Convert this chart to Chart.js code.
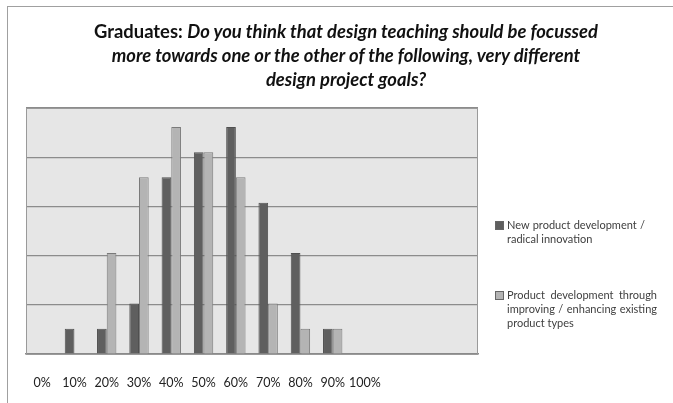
<!DOCTYPE html>
<html>
<head>
<meta charset="utf-8">
<script src="https://cdn.jsdelivr.net/npm/chart.js@4"></script>
<style>
    body { margin: 0; background: #fff; }
    #wrap { position: relative; width: 673px; height: 403px; overflow: hidden; }
    #frame { position: absolute; left: 7px; top: 6px; width: 700px; height: 420px; border: 1px solid #a0a0a0; }
    #title {
        position: absolute; left: 7px; top: 19px; width: 678px;
        text-align: center; font-family: Lato, sans-serif; font-weight: bold;
        font-size: 18.4px; line-height: 24px; color: #111;
    }
    #title i { font-style: italic; }
    #legend { position: absolute; left: 495px; top: 218px; width: 175px; font-family: Lato, sans-serif; font-size: 11px; line-height: 14px; color: #404040; }
    .item { position: relative; padding-left: 12px; }
    .item .ln { white-space: nowrap; text-align: justify; text-align-last: justify; }
    .item .ln.last { text-align-last: left; }
    .box { position: absolute; left: 0; top: 3px; width: 7px; height: 7px; border: 1px solid #666; }
    canvas { position: absolute; left: 0; top: 0; }
</style>
</head>
<body>
<div id="wrap">
    <div id="frame"></div>
    <canvas id="chart" width="673" height="403"></canvas>
    <div id="title">Graduates: <i>Do you think that design teaching should be focussed<br>more towards one or the other of the following, very different<br>design project goals?</i></div>
    <div id="legend"></div>
</div>
<script>
// answer scale, plus three empty slots the original plot area kept on the right
const categories = ['0%', '10%', '20%', '30%', '40%', '50%', '60%', '70%', '80%', '90%', '100%', '', '', ''];
const seriesNames = [
    ['New product development /', 'radical innovation'],
    ['Product development through', 'improving / enhancing existing', 'product types']
];
// percent of respondents
const newProduct = [0, 2.56, 2.56, 5.13, 17.95, 20.51, 23.08, 15.38, 10.26, 2.56, 0];
const improving = [0, 0, 10.26, 17.95, 23.08, 20.51, 17.95, 5.13, 2.56, 2.56, 0];
const yTicks = [0, 5, 10, 15, 20, 25];

const colors = ['#5f5f5f', '#b4b4b4'];
const legendTextWidth = [138, 150];

const plotBackground = {
    id: 'plotBackground',
    beforeDraw(chart) {
        const a = chart.chartArea;
        const ctx = chart.ctx;
        ctx.save();
        ctx.fillStyle = '#e6e6e6';
        ctx.fillRect(a.left, a.top, a.right - a.left, a.bottom - a.top);
        ctx.restore();
    },
    afterDraw(chart) {
        const a = chart.chartArea;
        const ctx = chart.ctx;
        ctx.save();
        ctx.strokeStyle = '#9a9a9a';
        ctx.lineWidth = 1;
        ctx.strokeRect(a.left + 0.5, a.top + 0.5, a.right - a.left - 1, a.bottom - a.top);
        ctx.restore();
    }
};

const ctx = document.getElementById('chart').getContext('2d');
const myChart = new Chart(ctx, {
    type: 'bar',
    data: {
        labels: categories,
        datasets: [{
            label: seriesNames[0].join(' '),
            data: newProduct,
            backgroundColor: colors[0],
            borderColor: '#505050',
            borderWidth: 1
        }, {
            label: seriesNames[1].join(' '),
            data: improving,
            backgroundColor: colors[1],
            borderColor: '#7a7a7a',
            borderWidth: 1
        }]
    },
    options: {
        responsive: false,
        animation: false,
        layout: { padding: { left: 26, top: 108, right: 195, bottom: 0 } },
        categoryPercentage: 0.6,
        barPercentage: 1,
        scales: {
            x: {
                grid: { display: false },
                border: { color: '#8a8a8a', width: 1.5 },
                ticks: {
                    color: '#222',
                    padding: 13,
                    maxRotation: 0,
                    autoSkip: false,
                    font: { family: 'Lato, sans-serif', size: 12.5 }
                }
            },
            y: {
                min: yTicks[0],
                max: yTicks[yTicks.length - 1],
                afterBuildTicks: (scale) => { scale.ticks = yTicks.map(v => ({ value: v })); },
                grid: { color: '#8c8c8c', lineWidth: 1.2, drawTicks: false },
                border: { display: false },
                ticks: { display: false }
            }
        },
        plugins: {
            legend: { display: false },
            tooltip: { enabled: false }
        }
    },
    plugins: [plotBackground]
});

// legend in html so the long labels can wrap like the original
const legend = document.getElementById('legend');
seriesNames.forEach((lines, i) => {
    const item = document.createElement('div');
    item.className = 'item';
    item.style.width = legendTextWidth[i] + 'px';
    item.style.marginBottom = i === 0 ? '42px' : '0';
    let html = '<span class="box" style="background:' + colors[i] + '"></span>';
    lines.forEach((line, j) => {
        html += '<div class="ln' + (j === lines.length - 1 ? ' last' : '') + '">' + line + '</div>';
    });
    item.innerHTML = html;
    legend.appendChild(item);
});
</script>
</body>
</html>
